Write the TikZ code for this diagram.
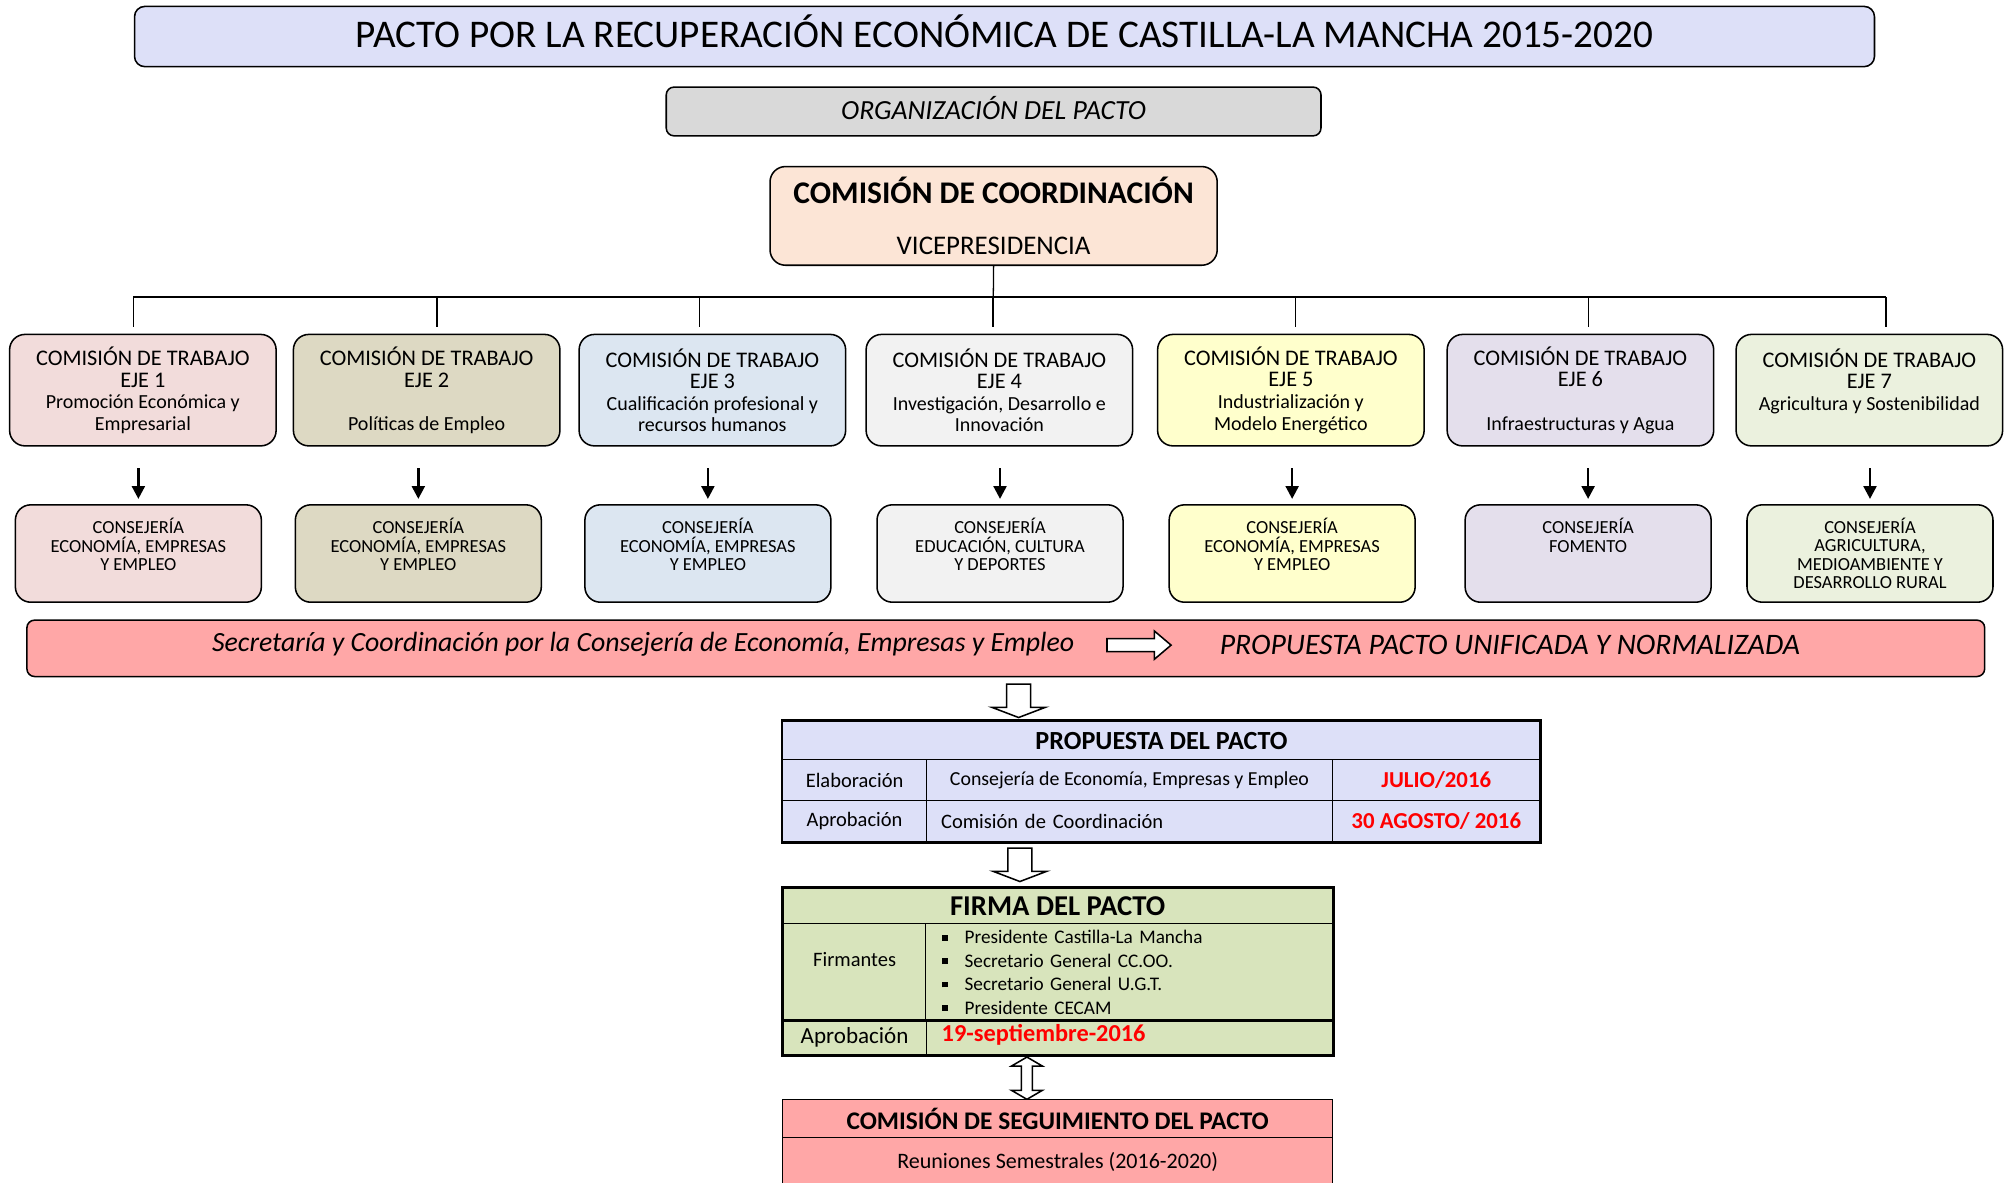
\documentclass[tikz,border=0pt]{standalone}
\usepackage{fontspec}
\setmainfont{Carlito}
\usetikzlibrary{arrows.meta}
\definecolor{lavanda}{RGB}{221,224,248}
\definecolor{gris}{RGB}{217,217,217}
\definecolor{durazno}{RGB}{252,229,214}
\definecolor{eje1}{RGB}{242,220,219}
\definecolor{eje2}{RGB}{221,217,195}
\definecolor{eje3}{RGB}{220,230,241}
\definecolor{eje4}{RGB}{242,242,242}
\definecolor{eje5}{RGB}{255,255,204}
\definecolor{eje6}{RGB}{228,223,236}
\definecolor{eje7}{RGB}{235,241,222}
\definecolor{salmon}{RGB}{255,167,167}
\definecolor{oliva}{RGB}{216,228,188}
\newcommand{\cuadrito}{\rule[1.3pt]{2.2pt}{2.2pt}}
\newcommand{\letrasub}{\fontsize{7.8}{8.4}\selectfont}
\tikzset{
	caja/.style={draw, line width=0.6pt, rounded corners=6pt, align=center, inner sep=0pt},
	trabajo/.style={caja, minimum width=104pt, minimum height=43.5pt, font=\fontsize{8.7}{8.4}\selectfont},
	consejeria/.style={caja, minimum width=96pt, minimum height=38pt, font=\fontsize{7.2}{7.15}\selectfont},
	celda/.style={draw, line width=0.5pt, inner sep=0pt, align=center, font=\fontsize{8}{9.6}\selectfont},
	rojo/.style={text=red, font=\bfseries\fontsize{8.9}{10}\selectfont},
	linea/.style={line width=0.5pt},
	flecha/.style={line width=1pt, -{Triangle[length=5pt, width=5pt]}},
	hueca/.style={draw, fill=white, line width=0.6pt, line join=miter}
}
\begin{document}
\begin{tikzpicture}[x=0.5pt, y=-0.5pt]
	\useasboundingbox (0,0) rectangle (1568,923);
	\clip (0,0) rectangle (1568,923);
	% cabecera
	\node[caja, fill=lavanda, rounded corners=4pt, minimum width=679pt, minimum height=23.5pt, font=\fontsize{15.3}{18}\selectfont] (titulo) at (784,28.5) {\raisebox{2.2pt}[\height][\depth]{PACTO POR LA RECUPERACIÓN ECONÓMICA DE CASTILLA-LA MANCHA 2015-2020}};
	\node[caja, fill=gris, rounded corners=3pt, minimum width=255.5pt, minimum height=19pt, font=\itshape\fontsize{10.8}{12}\selectfont] (org) at (775.5,87) {\raisebox{1.5pt}[\height][\depth]{ORGANIZACIÓN DEL PACTO}};
	\node[caja, fill=durazno, minimum width=174.5pt, minimum height=38.5pt] (coord) at (775.5,168.5) {{\bfseries\fontsize{12.3}{13}\selectfont COMISIÓN DE COORDINACIÓN}\\[8pt]{\fontsize{10.5}{13}\selectfont VICEPRESIDENCIA}};
	% comisiones de trabajo
	\foreach \i/\x/\col/\la/\lb in {
		1/111.5/eje1/{Promoción Económica y}/{Empresarial},
		2/333/eje2/{~}/{Políticas de Empleo},
		3/556/eje3/{Cualificación profesional y}/{recursos humanos},
		4/780/eje4/{Investigación, Desarrollo e}/{Innovación},
		5/1007.5/eje5/{Industrialización y}/{Modelo Energético},
		6/1233.5/eje6/{~}/{Infraestructuras y Agua},
		7/1459/eje7/{Agricultura y Sostenibilidad}/{~}}
		\node[trabajo, fill=\col] (t\i) at (\x,304.5) {COMISIÓN DE TRABAJO\\EJE \i\\\letrasub\la\\\letrasub\lb};
	% consejerias
	\foreach \i/\x/\col/\txt in {
		1/108/eje1/{ECONOMÍA, EMPRESAS\\Y EMPLEO\\~},
		2/326.5/eje2/{ECONOMÍA, EMPRESAS\\Y EMPLEO\\~},
		3/552.5/eje3/{ECONOMÍA, EMPRESAS\\Y EMPLEO\\~},
		4/780.5/eje4/{EDUCACIÓN, CULTURA\\Y DEPORTES\\~},
		5/1008.5/eje5/{ECONOMÍA, EMPRESAS\\Y EMPLEO\\~},
		6/1239.5/eje6/{FOMENTO\\~\\~},
		7/1459.5/eje7/{AGRICULTURA,\\MEDIOAMBIENTE Y\\DESARROLLO RURAL}}
		\node[consejeria, fill=\col] (c\i) at (\x,432) {CONSEJERÍA\\\txt};
	% conectores
	\coordinate (bus) at (775,232);
	\foreach \i/\x in {1/104, 2/341, 3/546, 4/775, 5/1011, 6/1240, 7/1472}
		\coordinate (d\i) at (\x,255);
	\draw[linea] (coord.south) -- (d4);
	\draw[line width=0.8pt] (bus -| d1) -- (bus -| d7);
	\foreach \i in {1,...,7}
		\draw[linea] (bus -| d\i) -- (d\i);
	\foreach \i in {1,...,7}
		\draw[flecha, shorten <=8.5pt, shorten >=2pt] (t\i.south -| c\i.north) -- (c\i.north);
	% secretaria
	\node[caja, fill=salmon, rounded corners=3pt, minimum width=764pt, minimum height=22pt] (secretaria) at (785,506) {};
	\node[font=\itshape\fontsize{10.85}{13}\selectfont] (sectxt) at (502,503) {Secretaría y Coordinación por la Consejería de Economía, Empresas y Empleo};
	\node[font=\itshape\fontsize{11.6}{13}\selectfont] (unif) at (1178.5,503) {PROPUESTA PACTO UNIFICADA Y NORMALIZADA};
	\coordinate (fa) at (864,503.5);
	\draw[hueca] (fa) ++(0,-5) -- ++(37,0) -- ++(0,-6) -- ++(13,11) -- ++(-13,11) -- ++(0,-6) -- ++(-37,0) -- cycle;
	\coordinate (fb) at (795,534);
	\draw[hueca] (fb) ++(-9.3,0) -- ++(0,18) -- ++(-11.7,0) -- ++(21,8) -- ++(21,-8) -- ++(-11.7,0) -- ++(0,-18) -- cycle;
	% propuesta del pacto
	\node[celda, fill=lavanda, minimum width=295.5pt, minimum height=15pt, font=\bfseries\fontsize{10.2}{11}\selectfont] (prop) at (906.5,578) {PROPUESTA DEL PACTO};
	\node[celda, fill=lavanda, minimum width=56pt, minimum height=16pt] (elab) at (667,609) {Elaboración};
	\node[celda, fill=lavanda, minimum width=158.5pt, minimum height=16pt, font=\fontsize{7.75}{9.6}\selectfont] (elabq) at (881.5,609) {Consejería de Economía, Empresas y Empleo};
	\node[celda, fill=lavanda, minimum width=81pt, minimum height=16pt, rojo] (elabf) at (1121,609) {JULIO/2016};
	\node[celda, fill=lavanda, minimum width=56pt, minimum height=16pt] (apr) at (667,641) {Aprobación};
	\node[celda, fill=lavanda, minimum width=158.5pt, minimum height=16pt, align=left, text width=147pt, inner xsep=5.5pt] (aprq) at (881.5,641) {Comisión de Coordinación};
	\node[celda, fill=lavanda, minimum width=81pt, minimum height=16pt, rojo] (aprf) at (1121,641) {30 AGOSTO/ 2016};
	\draw[line width=1pt] (prop.north west) rectangle (aprf.south east);
	\coordinate (fc) at (796,662);
	\draw[hueca] (fc) ++(-9.3,0) -- ++(0,18) -- ++(-11.7,0) -- ++(21,8) -- ++(21,-8) -- ++(-11.7,0) -- ++(0,-18) -- cycle;
	% firma del pacto
	\node[celda, fill=oliva, minimum width=214.5pt, minimum height=14pt, font=\bfseries\fontsize{11.2}{12}\selectfont] (fh) at (825.5,707) {FIRMA DEL PACTO};
	\node[celda, fill=oliva, minimum width=56pt, minimum height=38pt] (ff1) at (667,759) {\raisebox{5pt}[\height][\depth]{Firmantes}};
	\node[celda, fill=oliva, minimum width=158.5pt, minimum height=38pt, align=left, text width=146pt, inner xsep=6.5pt, font=\fontsize{7.5}{9.15}\selectfont] (ff2) at (881.5,759) {\cuadrito\hspace{6.5pt}Presidente Castilla-La Mancha\\\cuadrito\hspace{6.5pt}Secretario General CC.OO.\\\cuadrito\hspace{6.5pt}Secretario General U.G.T.\\\cuadrito\hspace{6.5pt}Presidente CECAM};
	\node[celda, fill=oliva, minimum width=56pt, minimum height=13pt, font=\fontsize{9}{11}\selectfont] (fa1) at (667,810) {Aprobación};
	\node[celda, fill=oliva, minimum width=158.5pt, minimum height=13pt, align=left, text width=146.5pt, inner xsep=6pt, rojo, font=\bfseries\fontsize{9.5}{11}\selectfont] (fa2) at (881.5,810) {\raisebox{1pt}[\height][\depth]{19-septiembre-2016}};
	\draw[line width=1.2pt] (fh.north west) rectangle (fa2.south east);
	\draw[line width=1.2pt] (fa1.north west) -- (fa2.north east);
	\coordinate (fd) at (801.5,825);
	\draw[hueca] (fd) -- ++(12,7) -- ++(-7.7,0) -- ++(0,19) -- ++(7.7,0) -- ++(-12,7) -- ++(-12,-7) -- ++(7.7,0) -- ++(0,-19) -- ++(-7.7,0) -- cycle;
	% seguimiento
	\node[celda, fill=salmon, minimum width=214.5pt, minimum height=15pt, font=\bfseries\fontsize{9.9}{10}\selectfont] (sh) at (825.5,873) {COMISIÓN DE SEGUIMIENTO DEL PACTO};
	\node[celda, fill=salmon, minimum width=214.5pt, minimum height=19pt, font=\fontsize{8.6}{10}\selectfont] (sr) at (825.5,907) {Reuniones Semestrales (2016-2020)};
\end{tikzpicture}
\end{document}
